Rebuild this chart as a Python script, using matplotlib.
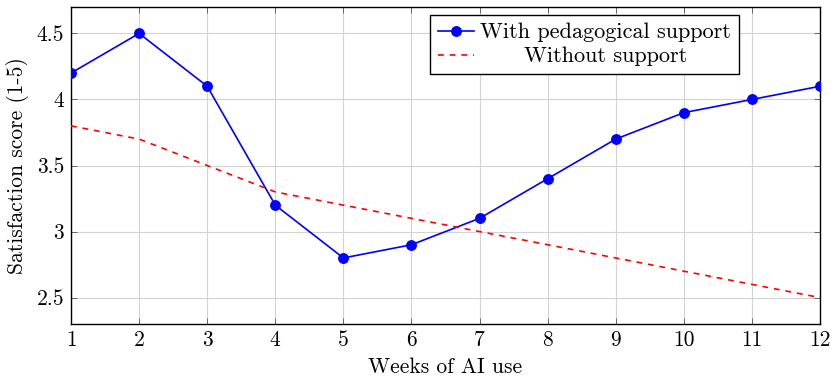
import matplotlib
matplotlib.use("Agg")
import matplotlib.pyplot as plt

weeks = [1, 2, 3, 4, 5, 6, 7, 8, 9, 10, 11, 12]
with_support = [4.2, 4.5, 4.1, 3.2, 2.8, 2.9, 3.1, 3.4, 3.7, 3.9, 4.0, 4.1]
without_support = [3.8, 3.7, 3.5, 3.3, 3.2, 3.1, 3.0, 2.9, 2.8, 2.7, 2.6, 2.5]
y_ticks = [2.5, 3, 3.5, 4, 4.5]
y_tick_labels = ["2.5", "3", "3.5", "4", "4.5"]
x_label = "Weeks of AI use"
y_label = "Satisfaction score (1-5)"
series_labels = ["With pedagogical support", "Without support"]

plt.rcParams['font.family'] = ['cmr10', 'DejaVu Serif']
plt.rcParams['axes.formatter.use_mathtext'] = True

fig = plt.figure(figsize=(8.36, 3.8), dpi=100)
ax = fig.add_axes([71/836, 1-324/380, (820-71)/836, (324-7)/380])

ax.plot(weeks, with_support, color=(0, 0, 1), lw=1.2, marker='o', ms=6.8,
        label=series_labels[0], zorder=3)
ax.plot(weeks, without_support, color=(1, 0, 0), lw=1.2, ls=(0, (3.5, 3.5)),
        label=series_labels[1], zorder=3)

ax.set_xlim(1, 12)
ax.set_ylim(2.3, 4.7)
ax.set_xticks(weeks)
ax.set_xticklabels([str(w) for w in weeks])
ax.set_yticks(y_ticks)
ax.set_yticklabels(y_tick_labels)
ax.grid(True, color='#d3d3d3', lw=0.8)
ax.set_axisbelow(True)
ax.tick_params(direction='in', length=4, width=0.6, color='#555555',
               top=True, right=True, labelsize=15.5, pad=5)
for s in ax.spines.values():
    s.set_linewidth(1.0)
    s.set_color('black')

ax.set_xlabel(x_label, fontsize=15.5, labelpad=5)
ax.set_ylabel(y_label, fontsize=15.5, labelpad=5)

leg = ax.legend(loc='upper right', bbox_to_anchor=((739-71)/749, (324-15)/317),
                fontsize=16, frameon=True, fancybox=False, edgecolor='black',
                framealpha=1, handlelength=1.6, handletextpad=0.3,
                borderpad=0.35, labelspacing=0.2, borderaxespad=0)
leg.get_frame().set_linewidth(1.0)

fig.canvas.draw()
r = fig.canvas.get_renderer()
texts = leg.get_texts()
w = [t.get_window_extent(r).width for t in texts]
items = leg._legend_handle_box.get_children()[0].get_children()
items[1].sep += (w[0] - w[1]) / 2 * 72 / fig.dpi

fig.savefig("out.png", dpi=100)
